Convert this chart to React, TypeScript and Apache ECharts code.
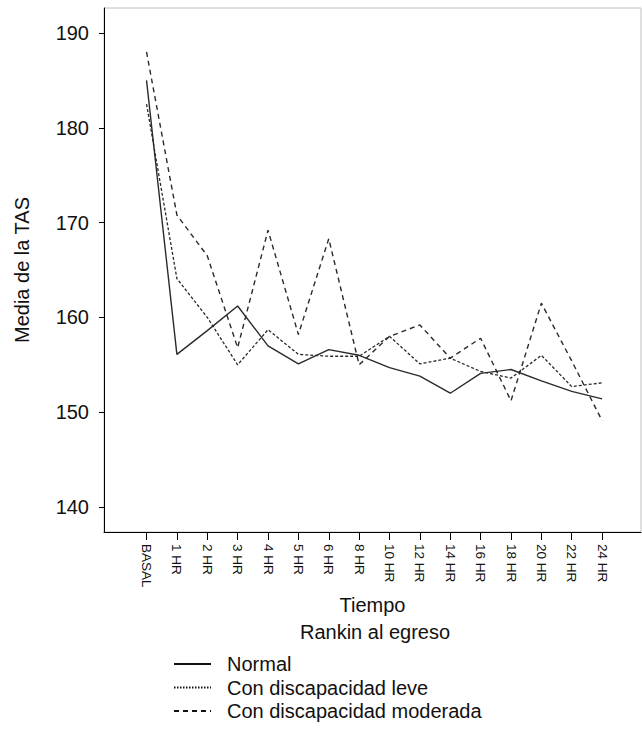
import React, { useEffect, useRef } from "react";
import * as echarts from "echarts";

const categories = ["BASAL", "1 HR", "2 HR", "3 HR", "4 HR", "5 HR", "6 HR", "8 HR", "10 HR", "12 HR", "14 HR", "16 HR", "18 HR", "20 HR", "22 HR", "24 HR"];
const normal = [185.0, 156.1, 158.6, 161.2, 157.0, 155.1, 156.6, 156.0, 154.7, 153.8, 152.0, 154.1, 154.5, 153.3, 152.2, 151.4];
const leve = [182.5, 164.1, 160.0, 155.0, 158.7, 156.1, 155.9, 155.9, 158.0, 155.1, 155.7, 154.3, 153.6, 156.0, 152.7, 153.1];
const moderada = [188.0, 170.8, 166.5, 156.8, 169.2, 158.2, 168.3, 155.0, 158.0, 159.2, 155.7, 157.8, 151.2, 161.5, 155.4, 149.1];
const yTicks = [140, 150, 160, 170, 180, 190];
const seriesNames = ["Normal", "Con discapacidad leve", "Con discapacidad moderada"];

const FONT = "'Liberation Sans', Arial, sans-serif";

export default function App() {
  const ref = useRef<HTMLDivElement>(null);
  useEffect(() => {
    if (!ref.current) return;
    const chart = echarts.init(ref.current, undefined, { renderer: "svg" });
    const idx = categories.map((_, i) => i);
    const toPairs = (arr: number[]) => arr.map((v, i) => [i, v]);
    const lineColor = "#2a2a2a";
    chart.setOption({
      animation: false,
      textStyle: { fontFamily: FONT },
      grid: { left: 104, right: 1, top: 8, bottom: 197, show: true, borderColor: "#c0c0c0", borderWidth: 1 },
      xAxis: {
        type: "value",
        min: -1.4,
        max: 16.28,
        name: "Tiempo",
        nameLocation: "middle",
        nameGap: 62,
        nameTextStyle: { fontSize: 20, color: "#111", fontFamily: FONT },
        axisLine: { show: true, onZero: false, lineStyle: { color: "#000", width: 1 } },
        axisTick: { show: true, length: 8, customValues: idx, lineStyle: { color: "#000" } },
        axisLabel: {
          customValues: idx,
          rotate: -90,
          margin: 12,
          fontSize: 13.5,
          color: "#111",
          fontFamily: FONT,
          formatter: (v: number) => categories[Math.round(v)] ?? "",
        },
        splitLine: { show: false },
      },
      yAxis: {
        type: "value",
        min: 137.36,
        max: 192.64,
        name: "Media de la TAS",
        nameLocation: "middle",
        nameGap: 72,
        nameTextStyle: { fontSize: 20, color: "#111", fontFamily: FONT },
        axisLine: { show: true, onZero: false, lineStyle: { color: "#000", width: 1 } },
        axisTick: { show: true, length: 5, customValues: yTicks, lineStyle: { color: "#000" } },
        axisLabel: { customValues: yTicks, margin: 15, fontSize: 20, color: "#111", fontFamily: FONT },
        splitLine: { show: false },
      },
      legend: {
        orient: "vertical",
        left: 173,
        top: 654,
        itemWidth: 37,
        itemHeight: 14,
        itemGap: 3.5,
        padding: 0,
        itemStyle: { opacity: 0 },
        textStyle: { fontSize: 20, color: "#111", fontFamily: FONT, padding: [0, 0, 0, 11] },
        data: [
          { name: seriesNames[0], lineStyle: { width: 2, type: "solid", color: "#111" } },
          { name: seriesNames[1], lineStyle: { width: 2, type: [1.5, 1.5], color: "#111" } },
          { name: seriesNames[2], lineStyle: { width: 2, type: [5, 4], color: "#111" } },
        ],
      },
      graphic: [
        {
          type: "text",
          x: 375,
          y: 632,
          style: { text: "Rankin al egreso", fontSize: 20, fill: "#111", fontFamily: FONT, textAlign: "center", textVerticalAlign: "middle" },
        },
      ],
      series: [
        { name: seriesNames[0], type: "line", data: toPairs(normal), symbol: "none", lineStyle: { color: lineColor, width: 1.4, type: "solid" }, itemStyle: { color: lineColor } },
        { name: seriesNames[1], type: "line", data: toPairs(leve), symbol: "none", lineStyle: { color: lineColor, width: 1.3, type: [3, 2] }, itemStyle: { color: lineColor } },
        { name: seriesNames[2], type: "line", data: toPairs(moderada), symbol: "none", lineStyle: { color: lineColor, width: 1.4, type: [5, 4] }, itemStyle: { color: lineColor } },
      ],
    });
    return () => chart.dispose();
  }, []);
  return <div ref={ref} style={{ position: "fixed", left: 0, top: 0, width: 642, height: 729, background: "#fff" }} />;
}
